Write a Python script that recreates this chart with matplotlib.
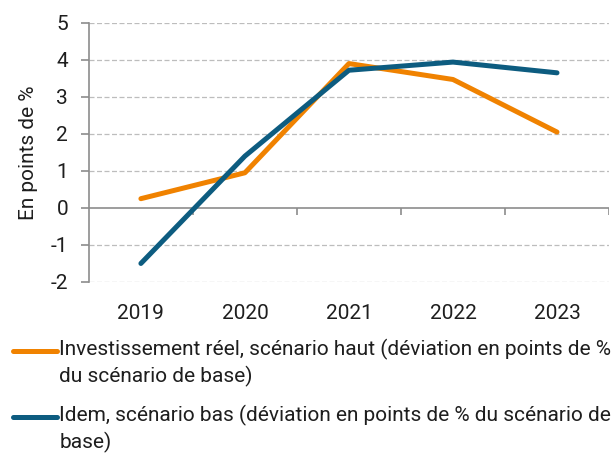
import matplotlib
matplotlib.use('Agg')
import matplotlib.pyplot as plt
from matplotlib.lines import Line2D

years = ['2019', '2020', '2021', '2022', '2023']
haut = [0.25, 0.95, 3.9, 3.47, 2.05]
bas = [-1.5, 1.4, 3.72, 3.94, 3.65]
yticks = [-2, -1, 0, 1, 2, 3, 4, 5]
lbl_haut = 'Investissement réel, scénario haut (déviation en points de %\ndu scénario de base)'
lbl_bas = 'Idem, scénario bas (déviation en points de % du scénario de\nbase)'

ORANGE = '#f08200'
BLUE = '#0d5c80'
GREY = '#8c8c8c'
TXT = '#1e1e1e'
FS = 15

plt.rcParams['font.family'] = ['Roboto', 'DejaVu Sans']
plt.rcParams['axes.unicode_minus'] = False

fig = plt.figure(figsize=(6.13, 4.57), dpi=100)
ax = fig.add_axes([0.145, 0.383, 0.8485, 0.567])

x = list(range(len(years)))
ax.plot(x, haut, color=ORANGE, lw=3.6, solid_capstyle='round', zorder=4)
ax.plot(x, bas, color=BLUE, lw=3.6, solid_capstyle='round', zorder=5)

ax.set_xlim(-0.5, len(years) - 0.5)
ax.set_ylim(-2, 5)

# dashed grid except at zero, solid zero line
for v in yticks:
    if v == 0:
        continue
    ax.axhline(v, color='#bdbdbd', lw=0.9, ls=(0, (4, 2)), zorder=1)
ax.axhline(0, color=GREY, lw=1.2, zorder=2)
# category boundary ticks hanging from the zero line
ax.vlines([i + 0.5 for i in x], -0.19, 0, color=GREY, lw=1.2, zorder=2)

for s in ('top', 'right', 'bottom'):
    ax.spines[s].set_visible(False)
ax.spines['left'].set_color(GREY)
ax.spines['left'].set_linewidth(1.2)

ax.set_yticks(yticks)
ax.set_yticklabels([str(v) for v in yticks])
ax.tick_params(axis='y', length=6, width=1.2, color=GREY, labelsize=FS,
               labelcolor=TXT, pad=9)
ax.set_xticks(x)
ax.set_xticklabels(years)
ax.tick_params(axis='x', length=0, labelsize=FS, labelcolor=TXT, pad=16)
ax.set_ylabel('En points de %', fontsize=FS, color=TXT, labelpad=9)

# legend below the chart
for lbl, col, yy in ((lbl_haut, ORANGE, 0.232), (lbl_bas, BLUE, 0.0875)):
    fig.add_artist(Line2D([0.022, 0.093], [yy, yy], color=col, lw=3.6,
                          solid_capstyle='round', transform=fig.transFigure))
    fig.text(0.097, yy + 0.026, lbl, fontsize=FS, color=TXT,
             va='top', ha='left', linespacing=1.35)

fig.savefig('out.png', dpi=100)
